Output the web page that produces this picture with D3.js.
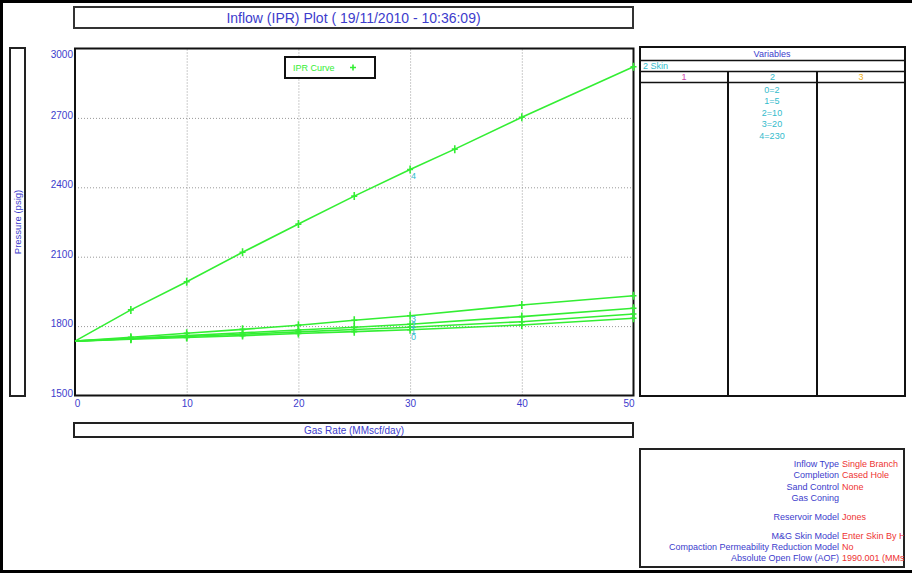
<!DOCTYPE html>
<html><head><meta charset="utf-8">
<script src="https://cdn.jsdelivr.net/npm/d3@7"></script>
<style>
body{margin:0;background:#fff;}
svg{display:block;font-family:"Liberation Sans",Arial,sans-serif;}
</style></head>
<body>
<script>
// ---------- data ----------
const titleText = "Inflow (IPR) Plot ( 19/11/2010 - 10:36:09)";
const xTitle = "Gas Rate  (MMscf/day)";
const yTitle = "Pressure  (psig)";
const xTicks = [0, 10, 20, 30, 40, 50];
const yTicks = [1500, 1800, 2100, 2400, 2700, 3000];
const rates = [0, 5, 10, 15, 20, 25, 30, 40, 50];
const ratesTop = [0, 5, 10, 15, 20, 25, 30, 34, 40, 50];
const skin2 = [1735, 1743, 1751, 1759, 1768, 1776, 1784, 1805, 1834];
const skin5 = [1735, 1745, 1755, 1765, 1775, 1785, 1795, 1819, 1852];
const skin10 = [1735, 1747, 1759, 1771, 1783, 1795, 1808, 1841, 1877];
const skin20 = [1735, 1752, 1769, 1786, 1804, 1825, 1845, 1891, 1931];
const skin230 = [1735, 1870, 1992, 2119, 2241, 2362, 2477, 2565, 2703, 2921];
const curveIds = ["0", "1", "2", "3", "4"];
const skinLabels = ["0=2", "1=5", "2=10", "3=20", "4=230"];
const varHeaders = ["1", "2", "3"];
const infoLabels = ["Inflow Type", "Completion", "Sand Control", "Gas Coning", "Reservoir Model", "M&G Skin Model", "Compaction Permeability Reduction Model", "Absolute Open Flow (AOF)"];
const infoValues = ["Single Branch", "Cased Hole", "None", "", "Jones", "Enter Skin By Hand", "No", " 1990.001  (MMscf/day)"];

// ---------- setup ----------
const W = 912, H = 574;
const svg = d3.select("body").append("svg").attr("width", W).attr("height", H);
const BLUE = "#3c3ccc", GREEN = "#33ee33", CYAN = "#33bbcc", RED = "#ee3333";

const x = d3.scaleLinear().domain([0, 50]).range([75, 633.5]);
const y = d3.scaleLinear().domain([1500, 3000]).range([395.5, 48.5]);

// outer frame
svg.append("rect").attr("x", 1.5).attr("y", 1.5).attr("width", W + 10).attr("height", 570)
  .attr("fill", "none").attr("stroke", "#000").attr("stroke-width", 3);

// title box
svg.append("rect").attr("x", 74).attr("y", 7).attr("width", 559).attr("height", 21)
  .attr("fill", "#fff").attr("stroke", "#333").attr("stroke-width", 2);
svg.append("text").attr("x", 353.5).attr("y", 22.5).attr("text-anchor", "middle")
  .attr("font-size", 14).attr("fill", BLUE).text(titleText);

// y title box
svg.append("rect").attr("x", 10).attr("y", 48).attr("width", 15).attr("height", 348)
  .attr("fill", "#fff").attr("stroke", "#222").attr("stroke-width", 2);
svg.append("text").attr("transform", "translate(21,222) rotate(-90)").attr("text-anchor", "middle")
  .attr("font-size", 9.5).attr("fill", BLUE).text(yTitle);

// x title box
svg.append("rect").attr("x", 74).attr("y", 423).attr("width", 559).attr("height", 14)
  .attr("fill", "#fff").attr("stroke", "#222").attr("stroke-width", 2);
svg.append("text").attr("x", 354).attr("y", 434).attr("text-anchor", "middle")
  .attr("font-size", 10).attr("fill", BLUE).text(xTitle);

// grid via axes
const gx = svg.append("g").attr("transform", `translate(0,${y(1500)})`)
  .call(d3.axisBottom(x).tickValues(xTicks.slice(1, -1)).tickSize(-(y(1500) - y(3000))).tickFormat(""));
gx.select(".domain").remove();
gx.selectAll("line").attr("stroke", "#999").attr("stroke-dasharray", "1,2");
const gy = svg.append("g").attr("transform", `translate(${x(0)},0)`)
  .call(d3.axisLeft(y).tickValues(yTicks.slice(1, -1)).tickSize(-(x(50) - x(0))).tickFormat(""));
gy.select(".domain").remove();
gy.selectAll("line").attr("stroke", "#999").attr("stroke-dasharray", "1,2");

// tick labels via axes
const ax = svg.append("g").attr("transform", `translate(0,${y(1500)})`)
  .call(d3.axisBottom(x).tickValues(xTicks).tickSize(0).tickPadding(4).tickFormat(d3.format("d")));
ax.select(".domain").remove();
ax.selectAll("text").attr("font-size", 10).attr("fill", BLUE).attr("font-family", null)
  .attr("dx", d => d === 0 ? 2 : (d === 50 ? -5 : 0));
const ay = svg.append("g").attr("transform", `translate(${x(0)},0)`)
  .call(d3.axisLeft(y).tickValues(yTicks).tickSize(0).tickPadding(2).tickFormat(d3.format("d")));
ay.select(".domain").remove();
ay.selectAll("text").attr("font-size", 10).attr("fill", BLUE).attr("font-family", null)
  .attr("dy", d => d === 3000 ? "0.9em" : "0.05em");

// plot frame
svg.append("rect").attr("x", x(0)).attr("y", y(3000)).attr("width", x(50) - x(0)).attr("height", y(1500) - y(3000))
  .attr("fill", "none").attr("stroke", "#111").attr("stroke-width", 2);

// curves
const series = [
  {id: curveIds[0], xs: rates, ys: skin2},
  {id: curveIds[1], xs: rates, ys: skin5},
  {id: curveIds[2], xs: rates, ys: skin10},
  {id: curveIds[3], xs: rates, ys: skin20},
  {id: curveIds[4], xs: ratesTop, ys: skin230}
];
const line = d3.line().x(d => x(d[0])).y(d => y(d[1]));
series.forEach((s, k) => {
  const pts = s.xs.map((v, i) => [v, s.ys[i]]);
  svg.append("path").attr("d", line(pts)).attr("fill", "none").attr("stroke", GREEN).attr("stroke-width", 1.6);
  svg.append("g").selectAll("path").data(pts.slice(1)).join("path")
    .attr("transform", d => `translate(${x(d[0])},${y(d[1])})`)
    .attr("d", "M-3,0H3M0,-4V4").attr("stroke", GREEN).attr("stroke-width", 1.6);
  const i30 = s.xs.indexOf(30);
  svg.append("text").attr("x", x(30) + 1).attr("y", s.id === "4" ? y(s.ys[i30]) + 10 : 340 - k * 6)
    .attr("font-size", 9).attr("fill", CYAN).text(s.id);
});

// legend
svg.append("rect").attr("x", 285).attr("y", 57).attr("width", 90).attr("height", 21)
  .attr("fill", "#fff").attr("stroke", "#111").attr("stroke-width", 2);
svg.append("text").attr("x", 293).attr("y", 71).attr("font-size", 9).attr("fill", GREEN).text("IPR Curve");
svg.append("path").attr("transform", "translate(353,67.5)").attr("d", "M-3,0H3M0,-3V3")
  .attr("stroke", GREEN).attr("stroke-width", 1.6);

// variables panel
const vx0 = 640, vx1 = 905, colX = [vx0, 728, 817, vx1];
const vp = svg.append("g");
vp.append("rect").attr("x", vx0).attr("y", 47).attr("width", vx1 - vx0).attr("height", 396 - 47)
  .attr("fill", "none").attr("stroke", "#111").attr("stroke-width", 2);
[60.5, 71.5, 82.5].forEach(yy => vp.append("line").attr("x1", vx0).attr("x2", vx1).attr("y1", yy).attr("y2", yy)
  .attr("stroke", "#111").attr("stroke-width", 1.5));
[colX[1], colX[2]].forEach(xx => vp.append("line").attr("x1", xx).attr("x2", xx).attr("y1", 71.5).attr("y2", 396)
  .attr("stroke", "#111").attr("stroke-width", 2));
vp.append("text").attr("x", 772).attr("y", 57).attr("text-anchor", "middle").attr("font-size", 9).attr("fill", BLUE).text("Variables");
vp.append("text").attr("x", 643).attr("y", 69).attr("font-size", 9).attr("fill", CYAN).text("2 Skin");
const hdrColors = ["#cc44aa", CYAN, "#f0b020"];
varHeaders.forEach((h, i) => vp.append("text").attr("x", (colX[i] + colX[i + 1]) / 2).attr("y", 80)
  .attr("text-anchor", "middle").attr("font-size", 9).attr("fill", hdrColors[i]).text(h));
skinLabels.forEach((t, i) => vp.append("text").attr("x", 772).attr("y", 92.5 + i * 11.6)
  .attr("text-anchor", "middle").attr("font-size", 9).attr("fill", CYAN).text(t));

// info panel
svg.append("clipPath").attr("id", "infoclip").append("rect").attr("x", 640).attr("y", 449).attr("width", 264).attr("height", 118);
const ip = svg.append("g");
ip.append("rect").attr("x", 640).attr("y", 449).attr("width", 264).attr("height", 118)
  .attr("fill", "none").attr("stroke", "#222").attr("stroke-width", 2);
const infoY = [467, 478, 489.5, 501, 520, 539, 550, 560.5];
const ig = ip.append("g").attr("clip-path", "url(#infoclip)");
infoLabels.forEach((t, i) => {
  ig.append("text").attr("x", 839).attr("y", infoY[i]).attr("text-anchor", "end")
    .attr("font-size", 9).attr("fill", BLUE).text(t);
  ig.append("text").attr("x", 842).attr("y", infoY[i]).attr("font-size", 9).attr("fill", RED).text(infoValues[i]);
});
</script>
</body></html>
